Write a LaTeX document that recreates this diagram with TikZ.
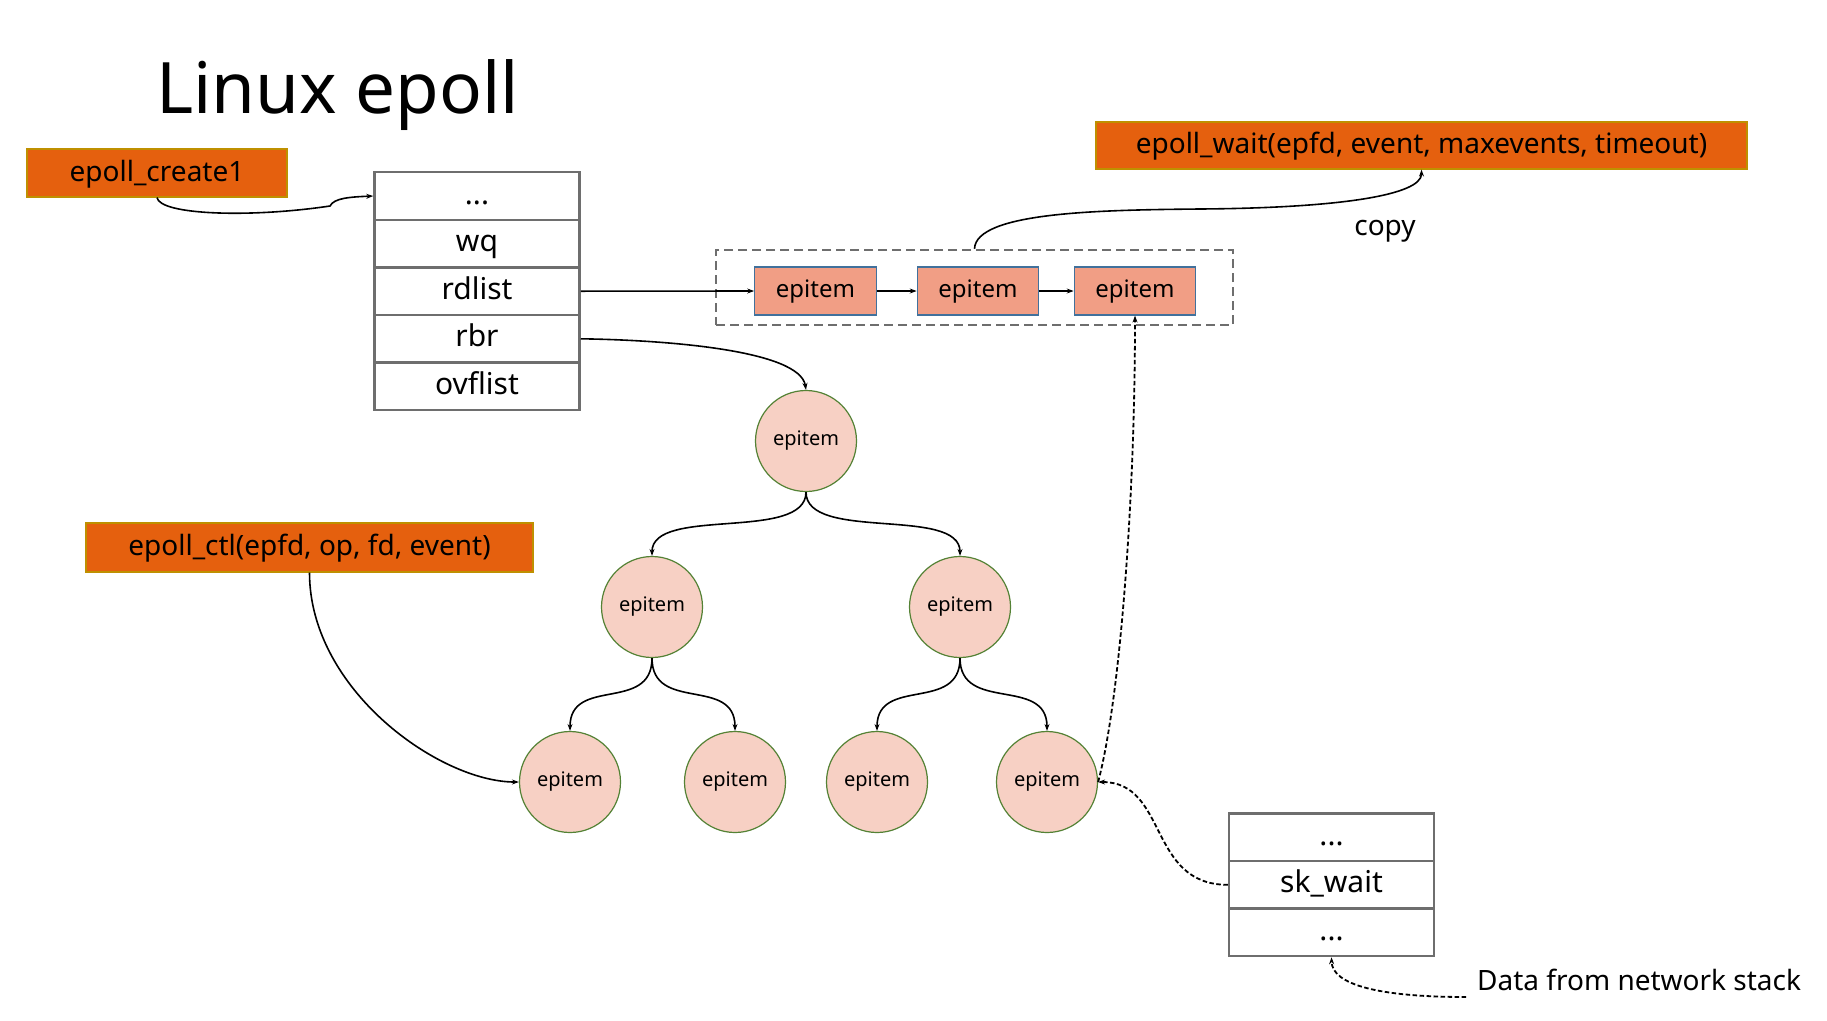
\documentclass[tikz,border=0pt]{standalone}
\usepackage{fontspec}
\setmainfont{Noto Sans}
\usetikzlibrary{arrows.meta}
\definecolor{orangeF}{HTML}{E5600E}
\definecolor{orangeB}{HTML}{BF9000}
\definecolor{rectF}{HTML}{F19E85}
\definecolor{rectB}{HTML}{41719C}
\definecolor{circF}{HTML}{F7D0C4}
\definecolor{circB}{HTML}{548235}
\definecolor{structB}{HTML}{6E6E6E}
\definecolor{dashG}{HTML}{6E6E6E}
\tikzset{
  callbox/.style={draw=orangeB, line width=1.2pt, fill=orangeF, inner sep=0pt,
    font=\fontsize{28}{32}\selectfont, text height=21pt, text depth=5pt},
  rowbox/.style={draw=structB, line width=2.5pt, fill=white, minimum width=205pt,
    minimum height=47.6pt, inner sep=0pt, font=\fontsize{30}{34}\selectfont,
    text height=22pt, text depth=6pt},
  listitem/.style={draw=rectB, line width=1.2pt, fill=rectF, minimum width=121.5pt,
    minimum height=48pt, inner sep=0pt, font=\fontsize{24}{28}\selectfont,
    text height=17pt, text depth=5pt},
  treeitem/.style={circle, draw=circB, line width=1.2pt, fill=circF, minimum size=101pt,
    inner sep=0pt, font=\fontsize{20}{24}\selectfont},
  dashbox/.style={draw=dashG, line width=2.5pt, dash pattern=on 9pt off 5pt,
    minimum width=517pt, minimum height=75pt, inner sep=0pt},
  conn/.style={line width=1.6pt, -{Stealth[length=7pt,width=5pt]}},
  dconn/.style={conn, line width=1.8pt, dash pattern=on 4.5pt off 2.5pt},
  lbl/.style={inner sep=0pt, font=\fontsize{28}{32}\selectfont}
}
\begin{document}
\begin{tikzpicture}[x=1pt,y=-1pt]
\useasboundingbox (0,0) rectangle (1827,1020);
\fill[white] (0,0) rectangle (1827,1020);

% title
\node[anchor=base west, inner sep=0pt, font=\fontsize{71}{80}\selectfont] (title) at (156,113) {Linux epoll};

% call boxes
\node[callbox, minimum width=260pt, minimum height=48pt] (create) at (157,173) {epoll\_create1};
\node[callbox, minimum width=651pt, minimum height=47pt] (wait) at (1421.5,145.5) {epoll\_wait(epfd, event, maxevents, timeout)};
\node[callbox, minimum width=447pt, minimum height=49pt] (ctl) at (309.5,547.5) {epoll\_ctl(epfd, op, fd, event)};

% eventpoll struct
\node[rowbox] (s1) at (477,196) {...};
\node[rowbox] (s2) at (477,243.6) {wq};
\node[rowbox] (s3) at (477,291.2) {rdlist};
\node[rowbox] (s4) at (477,338.8) {rbr};
\node[rowbox] (s5) at (477,386.4) {ovflist};

% ready list
\node[dashbox] (rd) at (974.5,287.5) {};
\node[listitem] (e1) at (815.5,291) {epitem};
\node[listitem] (e2) at (978,291) {epitem};
\node[listitem] (e3) at (1135,291) {epitem};

% tree
\node[treeitem] (r) at (806,441) {epitem};
\node[treeitem] (l) at (652,607) {epitem};
\node[treeitem] (rr) at (960,607) {epitem};
\node[treeitem] (ll) at (570,782) {epitem};
\node[treeitem] (lr) at (735,782) {epitem};
\node[treeitem] (rl) at (877,782) {epitem};
\node[treeitem] (rrr) at (1047,782) {epitem};

% socket struct
\node[rowbox] (k1) at (1331.5,837.5) {...};
\node[rowbox] (k2) at (1331.5,884.8) {sk\_wait};
\node[rowbox] (k3) at (1331.5,932.2) {...};

% labels
\node[lbl, anchor=base] (copy) at (1385,235) {copy};
\node[lbl, anchor=base west] (data) at (1477,990) {Data from network stack};
\coordinate (dstart) at (1466,997);

% connectors
\draw[conn] (create.south) .. controls (160,215) and (250,218) .. (330,206)
  .. controls (334,198) and (350,197) .. (s1.west);
\draw[conn] (s3.east) -- (e1.west);
\draw[conn] (e1.east) -- (e2.west);
\draw[conn] (e2.east) -- (e3.west);
\draw[conn] (rd.north) .. controls (976,212) and (1100,210) .. (1200,209)
  .. controls (1340,208) and (1421.5,195) .. (wait.south);
\draw[conn] (s4.east) .. controls (665,340) and (800,350) .. (r.north);

\draw[conn] (r.south) .. controls +(0,50) and +(0,-50) .. (l.north);
\draw[conn] (r.south) .. controls +(0,50) and +(0,-50) .. (rr.north);
\draw[conn] (l.south) .. controls +(0,55) and +(0,-55) .. (ll.north);
\draw[conn] (l.south) .. controls +(0,55) and +(0,-55) .. (lr.north);
\draw[conn] (rr.south) .. controls +(0,55) and +(0,-55) .. (rl.north);
\draw[conn] (rr.south) .. controls +(0,55) and +(0,-55) .. (rrr.north);

\draw[conn] (ctl.south) .. controls (309.5,690) and (440,782) .. (ll.west);

\draw[dconn] (rrr.east) .. controls (1120,700) and (1135,500) .. (e3.south);
\draw[dconn] (k2.west) .. controls +(-80,0) and +(70,0) .. (rrr.east);
\draw[dconn] (dstart) .. controls (1380,997) and (1332,985) .. (k3.south);
\end{tikzpicture}
\end{document}
